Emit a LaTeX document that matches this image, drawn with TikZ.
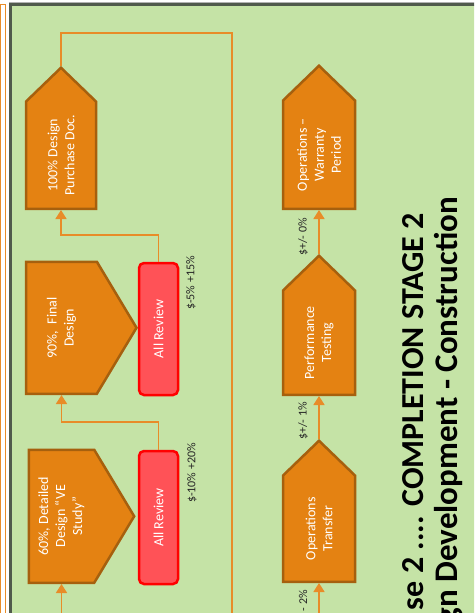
\documentclass[tikz,border=0pt]{standalone}
\usepackage{fontspec}
\setmainfont{Carlito}
\usetikzlibrary{shapes.symbols,arrows.meta}
\definecolor{myorange}{RGB}{228,130,18}
\definecolor{myorangeii}{RGB}{166,96,14}
\definecolor{myline}{RGB}{232,140,40}
\definecolor{mygreen}{RGB}{197,227,166}
\definecolor{mygrey}{RGB}{80,90,76}
\definecolor{myred}{RGB}{255,82,87}
\definecolor{myredii}{RGB}{255,0,0}

\begin{document}
\begin{tikzpicture}[x=1pt,y=-1pt,
stageb/.style={
  draw=myorangeii,
  fill=myorange,
  line width=2.5pt,
  shape=signal,
  signal from=nowhere,
  rotate=90,
  font={\fontsize{14}{17}\selectfont\color{white}},
  align=center,
  inner sep=0pt},
upb/.style={stageb,signal to=east,signal pointer angle=92},
sideb/.style={stageb,signal to=south,signal pointer angle=118},
reviewb/.style={
  draw=myredii,
  fill=myred,
  line width=2.5pt,
  rounded corners=5pt,
  rotate=90,
  font={\fontsize{14}{17}\selectfont\color{white}},
  inner sep=0pt},
costl/.style={rotate=90,font={\fontsize{12}{14}\selectfont\color{black!85}},inner sep=0pt},
titlet/.style={rotate=90,font={\fontsize{32}{38}\selectfont\bfseries},inner sep=0pt},
flow/.style={draw=myline,line width=1.6pt},
tip/.style={-{Triangle[length=9pt,width=11pt]}},
]
\useasboundingbox (0,0) rectangle (474,613);
\clip (0,0) rectangle (474,613);
% left frame
\draw[myline,line width=0.8pt] (0.8,620) -- (0.8,4);
\draw[myline,line width=0.8pt] (0,4) -- (5.5,4) -- (5.5,620);
% panel
\fill[mygreen] (10.5,4.5) rectangle (480,620);
\draw[gray!60,line width=1pt] (9,2.2) -- (480,2.2);
\draw[mygrey,line width=3.2pt] (10.5,620) -- (10.5,4.5) -- (480,4.5);
% design column
\node[upb,anchor=west,minimum width=141pt,minimum height=70pt] (A) at (61,210) {100\% Design\\Purchase Doc.};
\node[sideb,anchor=west,minimum width=132pt,minimum height=89pt] (B) at (61.5,395) {90\%,~ Final\\Design};
\node[sideb,anchor=west,minimum width=133pt,minimum height=89pt] (C) at (61.5,584) {60\%, Detailed\\Design ``VE\\Study''};
\node[reviewb,minimum width=132pt,minimum height=39pt] (R2) at (158.5,329) {All Review};
\node[reviewb,minimum width=133pt,minimum height=39pt] (R1) at (158.5,517.5) {All Review};
\node[costl] (L5) at (191,283) {\$-5\% +15\%};
\node[costl] (L10) at (192,473) {\$-10\% +20\%};
% operations column
\node[upb,anchor=west,minimum width=143pt,minimum height=72pt] (D) at (319,210) {Operations --\\Warranty\\Period};
\node[upb,anchor=west,minimum width=139pt,minimum height=72pt] (E) at (319,396) {Performance\\Testing};
\node[upb,anchor=west,minimum width=141pt,minimum height=72pt] (F) at (319,583) {Operations\\Transfer};
\node[costl] (L0) at (303,237) {\$+/- 0\%};
\node[costl] (L1) at (303,421) {\$+/- 1\%};
\node[costl,anchor=east] (L2) at (303,590) {- 2\%};
% title
\node[titlet,anchor=base east] (T1) at (423,213) {se 2 .... COMPLETION STAGE 2};
\node[titlet,font={\fontsize{33}{38}\selectfont\bfseries},anchor=base east] (T2) at (457,197) {gn Development - Construction};
% connectors
\coordinate (endA) at (232,625);
\coordinate (startC) at (61.5,625);
\coordinate (startF) at (319,625);
\draw[flow] (A.east) -- ++(0,-33) -| (endA);
\draw[flow,tip] (R2.east) -- ++(0,-27) -| (A.west);
\draw[flow,tip] (R1.east) -- ++(0,-28) -| (B.west);
\draw[flow,tip] (startC) -- (C.west);
\draw[flow,tip] (E.east) -- (D.west);
\draw[flow,tip] (F.east) -- (E.west);
\draw[flow,tip] (startF) -- (F.west);
\end{tikzpicture}
\end{document}
